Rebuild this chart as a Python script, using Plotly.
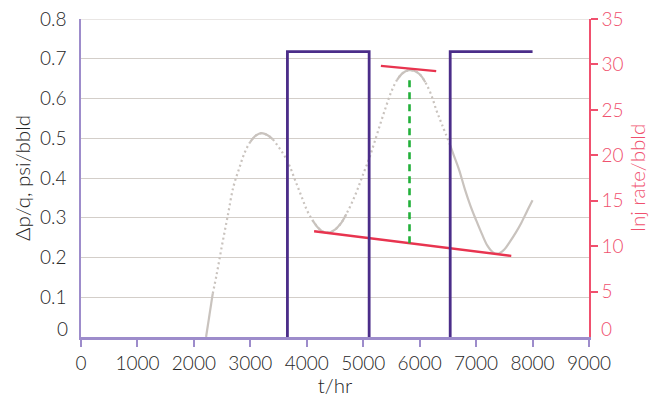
import plotly.graph_objects as go

# ---- data ----
t_hr = [2216, 2334, 2400, 2500, 2600, 2700, 2800, 2900, 3000, 3100, 3200, 3300, 3400,
        3500, 3600, 3700, 3800, 3900, 4000, 4100, 4200, 4300, 4400, 4500, 4600, 4700,
        4800, 4900, 5000, 5100, 5200, 5300, 5400, 5500, 5600, 5700, 5800, 5900, 6000,
        6100, 6200, 6300, 6400, 6540, 6600, 6700, 6800, 6900, 7000, 7100, 7200, 7300,
        7400, 7500, 7600, 7700, 7800, 7900, 8000]
dpq = [0.000, 0.109, 0.155, 0.232, 0.305, 0.378, 0.423, 0.464, 0.491, 0.507, 0.513, 0.508, 0.497,
       0.478, 0.457, 0.429, 0.392, 0.356, 0.320, 0.294, 0.275, 0.264, 0.263, 0.270, 0.285, 0.309,
       0.338, 0.372, 0.410, 0.447, 0.490, 0.535, 0.578, 0.618, 0.647, 0.664, 0.671, 0.670, 0.661,
       0.641, 0.611, 0.569, 0.533, 0.483, 0.459, 0.420, 0.372, 0.330, 0.294, 0.260, 0.230, 0.213,
       0.210, 0.220, 0.240, 0.262, 0.287, 0.316, 0.344]

rate_t = [0, 3657, 5105, 6541, 8000]
rate = [0, 31.4, 0, 31.4, 31.4]

upper_t = [5313, 6293]
upper_v = [0.682, 0.669]
lower_t = [4130, 7623]
lower_v = [0.266, 0.204]

drop_t = [5820, 5820]
drop_v = [0.236, 0.647]

x_ticks = [0, 1000, 2000, 3000, 4000, 5000, 6000, 7000, 8000, 9000]
y_ticks = [0.1, 0.2, 0.3, 0.4, 0.5, 0.6, 0.7, 0.8]
y2_ticks = [5, 10, 15, 20, 25, 30, 35]

# ---- styles ----
FONT = "Lato"
TXT = "#262626"
PINK = "#f0506e"
LAV = "#9d8ccb"
PURPLE = "#4b2d89"
GREY = "#c9c3be"
RED = "#e8344f"
GREEN = "#22b03a"
GRID = "#d3cec9"
TS = 19     # tick font size
TT = 20.5   # title font size
W = 300     # font weight

def seg(lo, hi):
    xs, ys = [], []
    for t, v in zip(t_hr, dpq):
        if lo <= t <= hi:
            xs.append(t); ys.append(v)
    return xs, ys

fig = go.Figure()

# dotted base curve
xs, ys = seg(2334, 6540)
fig.add_trace(go.Scatter(x=xs, y=ys, mode="lines", line=dict(color=GREY, width=2.2, dash="2px,3px", shape="spline"),
                         showlegend=False, hoverinfo="skip"))
# solid parts (dense sampling)
for lo, hi in [(2216, 2334), (3000, 3400), (4100, 4700), (5600, 6100), (6540, 8000)]:
    xs, ys = seg(lo, hi)
    fig.add_trace(go.Scatter(x=xs, y=ys, mode="lines", line=dict(color=GREY, width=2.2, shape="spline"),
                             showlegend=False, hoverinfo="skip"))

# injection rate step (zero-rate stretches lie under the x axis line, so only "on" periods drawn)
sx, sy = [], []
for i in range(len(rate_t) - 1):
    if rate[i] > 0:
        sx += [rate_t[i], rate_t[i], rate_t[i + 1], rate_t[i + 1], None]
        sy += [0, rate[i], rate[i], rate[i + 1], None]
fig.add_trace(go.Scatter(x=sx, y=sy, yaxis="y2", mode="lines", connectgaps=False,
                         line=dict(color=PURPLE, width=2.8), showlegend=False))

# tangent lines
fig.add_trace(go.Scatter(x=upper_t, y=upper_v, mode="lines", line=dict(color=RED, width=2.4), showlegend=False))
fig.add_trace(go.Scatter(x=lower_t, y=lower_v, mode="lines", line=dict(color=RED, width=2.4), showlegend=False))
fig.add_trace(go.Scatter(x=drop_t, y=drop_v, mode="lines", line=dict(color=GREEN, width=2.6, dash="7px,5px"),
                         showlegend=False))

fig.update_layout(
    width=654, height=389,
    margin=dict(l=73, r=73, t=11, b=60, autoexpand=False),
    paper_bgcolor="white", plot_bgcolor="white",
    font=dict(family=FONT, size=TS, color=TXT, weight=W),
    xaxis=dict(range=[0, 9000], tickvals=x_ticks, showgrid=False, zeroline=False,
               showline=True, linecolor=LAV, linewidth=2.5,
               ticks="outside", ticklen=7, tickwidth=1.5, tickcolor=LAV,
               title=dict(text="t/hr", font=dict(size=TT, color=TXT, weight=W), standoff=4),
               tickfont=dict(size=TS, color=TXT, weight=W), automargin=False),
    yaxis=dict(range=[0, 0.8], tickvals=y_ticks, showgrid=True, gridcolor=GRID, gridwidth=1.2,
               zeroline=False, showline=True, linecolor=LAV, linewidth=1.5,
               ticks="outside", ticklen=9, tickcolor="rgba(0,0,0,0)",
               ticklabeloverflow="allow",
               title=dict(text="Δp/q, psi/bbld", font=dict(size=TT, color=TXT, weight=W), standoff=4),
               tickfont=dict(size=TS, color=TXT, weight=W), automargin=False),
    yaxis2=dict(range=[0, 35], tickvals=y2_ticks, overlaying="y", side="right", showgrid=False,
                zeroline=False, showline=True, linecolor=PINK, linewidth=1.5,
                ticks="outside", ticklen=7, tickwidth=1.5, tickcolor=PINK,
                ticklabeloverflow="allow",
                title=dict(text="Inj rate/bbld", font=dict(size=TT, color=PINK, weight=W), standoff=8),
                tickfont=dict(size=TS, color=PINK, weight=W), automargin=False),
    shapes=[dict(type="line", xref="paper", x0=0, x1=1, yref="y", y0=0.8, y1=0.8,
                 line=dict(color=GRID, width=1.2), layer="below")],
    annotations=[
        dict(text="0", xref="paper", x=0, xanchor="right", xshift=-11, yref="y", y=0, yshift=9,
             showarrow=False, font=dict(size=TS, color=TXT, weight=W)),
        dict(text="0", xref="paper", x=1, xanchor="left", xshift=10, yref="y", y=0, yshift=9,
             showarrow=False, font=dict(size=TS, color=PINK, weight=W)),
    ],
)

fig.write_html("out.html")
